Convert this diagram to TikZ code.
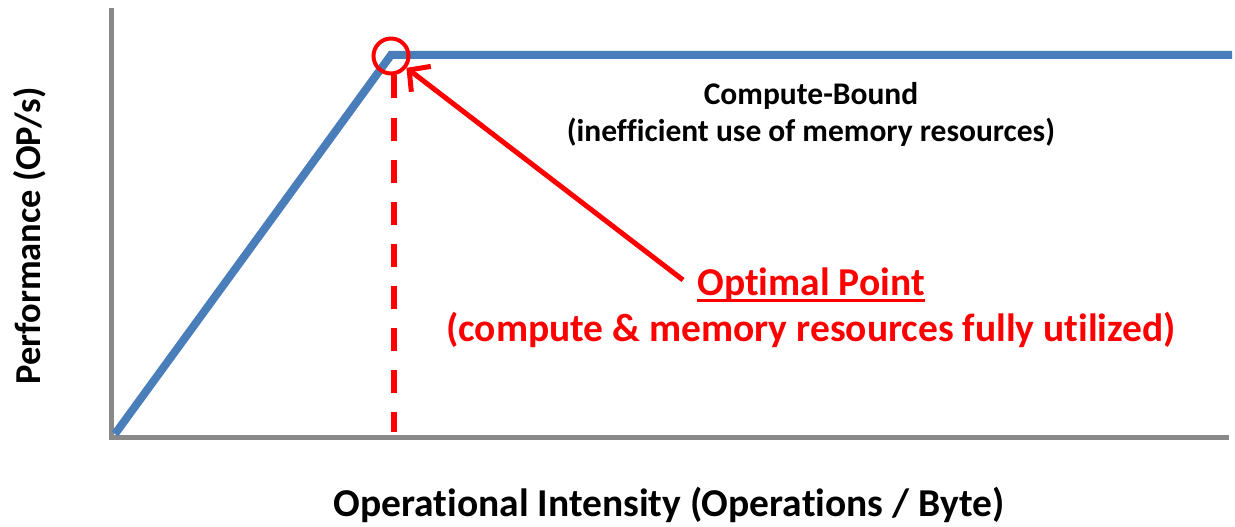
\documentclass[tikz,border=0pt]{standalone}
\usepackage{fontspec}
\setmainfont{Carlito}[Ligatures=NoCommon]
\usepackage{xcolor}
\usetikzlibrary{arrows.meta}

\definecolor{roofblue}{RGB}{74,126,187}
\definecolor{axisgray}{RGB}{137,137,137}
\newcommand{\thickul}[1]{{\setbox0\hbox{#1}\rlap{\rule[-6pt]{\wd0}{3pt}}\box0}}

\begin{document}
\begin{tikzpicture}[x=1pt, y=-1pt]
	\useasboundingbox (0, 0) rectangle (1235, 527);

	% axes
	\coordinate (origin) at (111, 437);
	\coordinate (ytop) at (111, 8);
	\coordinate (xend) at (1229, 437);
	\draw[line width=5pt, color=axisgray] (ytop) -- (origin) -- (xend);

	% roofline
	\coordinate (r0) at (115, 434);
	\coordinate (ridge) at (391, 55);
	\coordinate (r2) at (1232, 55);
	\draw[line width=8pt, color=roofblue, line join=miter] (r0) -- (ridge) -- (r2);

	% optimal point marker and its drop line
	\node[circle, draw, color=red, line width=4pt, minimum size=35pt, inner sep=0pt] (peak) at (391, 56) {};
	\coordinate (dropbot) at (394, 432);
	\draw[line width=5.5pt, color=red, dash pattern=on 23pt off 19pt] (peak.south -| dropbot) -- (dropbot);

	% texts
	\node[font=\fontsize{31.5}{37}\selectfont\bfseries, align=center] (cb) at (811, 114)
		{Compute-Bound\\(inefficient use of memory resources)};
	\node[font=\fontsize{39.5}{46}\selectfont\bfseries, align=center, color=red] (opt) at (811, 308)
		{\thickul{Optimal Point}\\(compute \& memory resources fully utilized)};
	\node[font=\fontsize{39.5}{46}\selectfont\bfseries] (xlab) at (669, 505)
		{Operational Intensity (Operations / Byte)};
	\node[font=\fontsize{36.5}{40}\selectfont\bfseries, rotate=90] (ylab) at (30, 236)
		{Performance (OP/s)};

	% arrow to the optimal point
	\coordinate (tail) at (683, 280);
	\draw[line width=5pt, color=red, -{Straight Barb[length=15pt, width=32pt]}] (tail) -- (peak);
\end{tikzpicture}
\end{document}
